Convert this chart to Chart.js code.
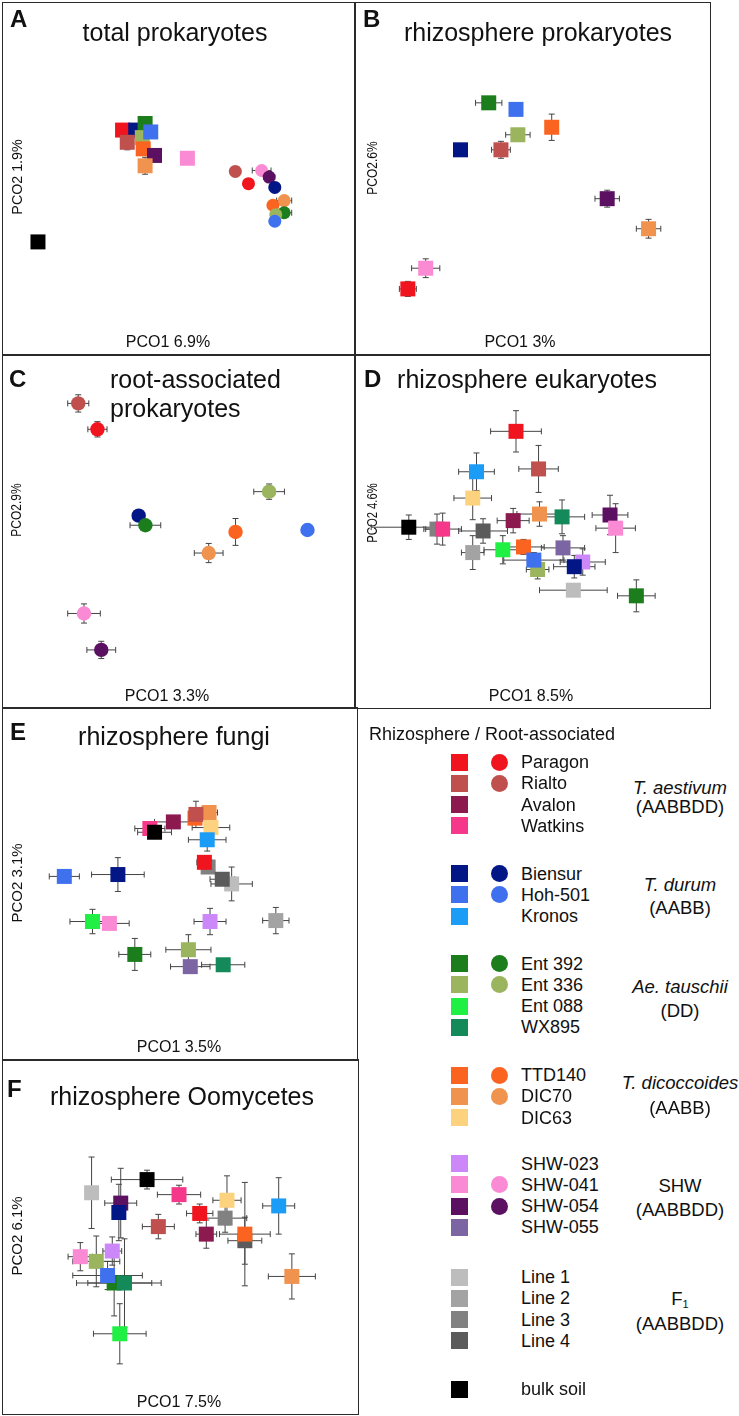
<!DOCTYPE html>
<html>
<head>
<meta charset="utf-8">
<script src="https://cdn.jsdelivr.net/npm/chart.js@4.4.0/dist/chart.umd.min.js"></script>
<style>
  body { margin: 0; width: 739px; height: 1416px; position: relative; overflow: hidden; background: #fff;
         font-family: "Liberation Sans", Arial, sans-serif; color: #111; }
  .box { position: absolute; border: 1.5px solid #2a2a2a; box-sizing: border-box; }
  .t { position: absolute; white-space: nowrap; line-height: 1; }
  canvas { position: absolute; }
  sub { font-size: 11px; vertical-align: -3px; }
</style>
</head>
<body>
<script>
// genotypes and their colours
const genotypes = ['Paragon', 'Rialto', 'Avalon', 'Watkins', 'Biensur', 'Hoh-501', 'Kronos',
  'Ent 392', 'Ent 336', 'Ent 088', 'WX895', 'TTD140', 'DIC70', 'DIC63',
  'SHW-023', 'SHW-041', 'SHW-054', 'SHW-055', 'Line 1', 'Line 2', 'Line 3', 'Line 4', 'bulk soil'];
const genotypeColors = ['#f0141e', '#c0504d', '#8c1a4e', '#f5388a', '#031686', '#3f70ee', '#1b9df7',
  '#1b7d1b', '#9bb45e', '#1ff043', '#14895a', '#fb6420', '#ef934f', '#fdd27e',
  '#cc88f8', '#fa8ad4', '#5c1062', '#7b66a3', '#bdbdbd', '#a3a3a3', '#818181', '#5b5b5b', '#000000'];
const rootAssociated = ['Paragon', 'Rialto', 'Biensur', 'Hoh-501', 'Ent 392', 'Ent 336', 'TTD140', 'DIC70', 'SHW-041', 'SHW-054'];

// [genotype, PCO1, PCO2, PCO1 error, PCO2 error]
const totalProkRhizo = [
  ['Paragon', 11.7, 22.7, 0, 0], ['Biensur', 13.1, 22.7, 0, 0], ['Ent 392', 14.1, 23.4, 0, 0.5],
  ['Ent 336', 13.8, 21.9, 0, 0], ['Hoh-501', 14.7, 22.5, 0, 0], ['Rialto', 12.2, 21.4, 0, 0.8],
  ['TTD140', 13.9, 20.7, 0, 0], ['SHW-054', 15.1, 20.0, 0, 0], ['DIC70', 14.1, 18.9, 0, 0.9],
  ['SHW-041', 18.6, 19.7, 0, 0], ['bulk soil', 2.7, 10.8, 0, 0]
];
const totalProkRoot = [
  ['Rialto', 23.7, 18.3, 0, 0], ['SHW-041', 26.5, 18.4, 1.0, 0], ['SHW-054', 27.3, 17.7, 0.6, 0],
  ['Paragon', 25.1, 17.0, 0, 0], ['Biensur', 27.9, 16.6, 0, 0], ['DIC70', 28.9, 15.2, 0.8, 0],
  ['TTD140', 27.7, 14.7, 0, 0], ['Ent 392', 28.9, 13.9, 0.8, 0], ['Ent 336', 28.0, 13.7, 0, 0],
  ['Hoh-501', 27.9, 13.0, 0, 0]
];
const rhizoProk = [
  ['Ent 392', 13.2, 25.6, 1.4, 0], ['Hoh-501', 16.1, 24.9, 0, 0.5], ['TTD140', 19.9, 23.0, 0, 1.4],
  ['Ent 336', 16.3, 22.2, 1.3, 0], ['Biensur', 10.2, 20.6, 0, 0], ['Rialto', 14.5, 20.6, 1.0, 0.9],
  ['SHW-054', 25.8, 15.4, 1.3, 0.9], ['DIC70', 30.2, 12.2, 1.3, 1.0], ['SHW-041', 6.5, 8.0, 1.5, 1.0],
  ['Paragon', 4.6, 5.8, 0.9, 0.8]
];
const rootProk = [
  ['Rialto', 7.2, 30.9, 1.1, 0.9], ['Paragon', 9.2, 28.2, 1.0, 0.8], ['Ent 336', 27.1, 21.7, 1.6, 0.8],
  ['Biensur', 13.5, 19.2, 0, 0], ['Ent 392', 14.2, 18.2, 1.6, 0], ['TTD140', 23.6, 17.5, 0, 1.4],
  ['Hoh-501', 31.1, 17.7, 0, 0.5], ['DIC70', 20.8, 15.3, 1.5, 1.0], ['SHW-041', 7.8, 9.0, 1.7, 1.0],
  ['SHW-054', 9.6, 5.2, 1.5, 0.9]
];
const rhizoEuk = [
  ['bulk soil', 4.7, 18.0, 4.0, 1.3], ['Line 3', 7.7, 17.8, 1.2, 1.6], ['Watkins', 8.3, 17.8, 2.0, 1.7],
  ['Line 4', 12.6, 17.6, 2.6, 1.3], ['Line 2', 11.5, 15.3, 1.2, 1.8], ['Ent 088', 14.7, 15.6, 2.0, 1.5],
  ['TTD140', 16.9, 15.9, 2.2, 0.8], ['Ent 336', 18.4, 13.5, 1.2, 1.0], ['Hoh-501', 18.0, 14.5, 3.2, 0.8],
  ['Kronos', 11.9, 23.9, 1.9, 2.0], ['DIC63', 11.5, 21.1, 2.0, 2.3], ['Paragon', 16.1, 28.2, 2.7, 2.2],
  ['Rialto', 18.5, 24.2, 2.1, 2.5], ['Avalon', 15.8, 18.7, 1.7, 1.3], ['DIC70', 18.6, 19.4, 2.4, 1.3],
  ['WX895', 21.0, 19.1, 2.4, 1.8], ['SHW-055', 21.1, 15.8, 2.3, 1.3], ['SHW-023', 23.2, 14.3, 2.4, 1.4],
  ['Biensur', 22.3, 13.8, 2.2, 1.2], ['SHW-054', 26.1, 19.3, 1.9, 2.1], ['SHW-041', 26.7, 17.9, 2.1, 2.6],
  ['Line 1', 22.2, 11.3, 3.6, 0.5], ['Ent 392', 28.9, 10.7, 2.0, 1.7]
];
const rhizoFungi = [
  ['DIC70', 20.9, 25.1, 0.9, 0.5], ['TTD140', 19.4, 24.5, 0, 0], ['Rialto', 19.5, 24.9, 0, 1.4],
  ['Avalon', 17.1, 24.1, 2.0, 0], ['DIC63', 21.1, 23.5, 2.0, 0], ['Kronos', 20.7, 22.2, 2.0, 1.2],
  ['Watkins', 14.6, 23.4, 1.6, 0], ['bulk soil', 15.1, 23.0, 1.8, 0], ['Line 3', 20.8, 19.3, 0, 0],
  ['Paragon', 20.4, 19.8, 0.8, 0], ['Line 1', 23.3, 17.5, 2.2, 1.8], ['Line 4', 22.3, 18.0, 1.3, 0],
  ['Hoh-501', 5.5, 18.3, 1.6, 0.3], ['Biensur', 11.2, 18.5, 2.8, 1.8], ['Ent 088', 8.5, 13.5, 2.4, 1.3],
  ['SHW-041', 10.3, 13.3, 2.1, 0], ['SHW-023', 21.0, 13.5, 1.7, 1.4], ['Line 2', 28.0, 13.6, 1.4, 1.4],
  ['Ent 392', 13.0, 10.0, 1.7, 1.7], ['Ent 336', 18.7, 10.5, 2.4, 1.6], ['SHW-055', 18.9, 8.7, 2.1, 0.5],
  ['WX895', 22.4, 8.9, 2.3, 0]
];
const rhizoOomy = [
  ['Line 1', 8.4, 22.3, 0, 3.8], ['bulk soil', 14.3, 23.7, 3.8, 1.0], ['Watkins', 17.7, 22.1, 2.3, 1.0],
  ['DIC63', 22.8, 21.5, 1.5, 2.6], ['Kronos', 28.3, 20.9, 1.7, 3.0], ['SHW-054', 11.5, 21.2, 1.7, 3.7],
  ['Biensur', 11.3, 20.2, 0, 3.0], ['Paragon', 19.9, 20.1, 1.4, 1.0], ['Line 3', 22.6, 19.6, 2.3, 1.5],
  ['Rialto', 15.5, 18.7, 1.7, 1.3], ['Avalon', 20.6, 17.9, 1.1, 1.5], ['Line 4', 24.7, 17.2, 1.8, 2.5],
  ['TTD140', 24.7, 17.9, 2.7, 5.5], ['SHW-023', 10.6, 16.1, 1.0, 1.5], ['SHW-041', 7.2, 15.5, 1.3, 1.5],
  ['Ent 336', 8.9, 15.0, 2.5, 2.7], ['Ent 392', 10.8, 12.7, 4.0, 3.5], ['Hoh-501', 10.1, 13.5, 3.7, 1.5],
  ['WX895', 11.9, 12.7, 3.9, 4.7], ['DIC70', 29.7, 13.4, 2.5, 2.4], ['Ent 088', 11.4, 7.3, 2.8, 3.2]
];

const colorOf = name => genotypeColors[genotypes.indexOf(name)];

function label(html, x, y, size, extra) {
  const d = document.createElement('div');
  d.className = 't';
  d.innerHTML = html;
  d.style.left = x + 'px';
  d.style.top = y + 'px';
  d.style.fontSize = size + 'px';
  d.style.transform = 'translate(-50%,-50%)';
  Object.assign(d.style, extra || {});
  document.body.appendChild(d);
  return d;
}

// error bars drawn under the markers
const errorBars = {
  id: 'errorBars',
  beforeDatasetsDraw(chart) {
    const { ctx, scales: { x, y } } = chart;
    ctx.save();
    ctx.strokeStyle = '#444';
    ctx.lineWidth = 1;
    const seg = (x1, y1, x2, y2) => { ctx.beginPath(); ctx.moveTo(x1, y1); ctx.lineTo(x2, y2); ctx.stroke(); };
    chart.data.datasets.forEach(ds => ds.data.forEach(p => {
      const cx = x.getPixelForValue(p.x), cy = y.getPixelForValue(p.y);
      if (p.xe) {
        const l = x.getPixelForValue(p.x - p.xe), r = x.getPixelForValue(p.x + p.xe);
        seg(l, cy, r, cy); seg(l, cy - 3, l, cy + 3); seg(r, cy - 3, r, cy + 3);
      }
      if (p.ye) {
        const t = y.getPixelForValue(p.y + p.ye), b = y.getPixelForValue(p.y - p.ye);
        seg(cx, t, cx, b); seg(cx - 3, t, cx + 3, t); seg(cx - 3, b, cx + 3, b);
      }
    }));
    ctx.restore();
  }
};

function toDataset(rows, style, radius) {
  return {
    data: rows.map(r => ({ x: r[1], y: r[2], xe: r[3], ye: r[4] })),
    pointStyle: style,
    pointRadius: radius,
    pointBorderWidth: 0,
    pointBackgroundColor: rows.map(r => colorOf(r[0])),
    clip: false
  };
}

const panels = [
  { id: 'A', left: 2, top: 2, w: 352, h: 352, squares: totalProkRhizo, circles: totalProkRoot, cr: 6.5 },
  { id: 'B', left: 354, top: 2, w: 355, h: 352, squares: rhizoProk },
  { id: 'C', left: 2, top: 354, w: 352, h: 353, circles: rootProk, cr: 7.2 },
  { id: 'D', left: 354, top: 354, w: 355, h: 353, squares: rhizoEuk },
  { id: 'E', left: 2, top: 707, w: 354, h: 352, squares: rhizoFungi },
  { id: 'F', left: 2, top: 1059, w: 355, h: 354, squares: rhizoOomy }
];

panels.forEach(p => {
  const box = document.createElement('div');
  box.className = 'box';
  Object.assign(box.style, { left: p.left + 'px', top: p.top + 'px', width: (p.w + 1.5) + 'px', height: (p.h + 1.5) + 'px' });
  document.body.appendChild(box);

  const c = document.createElement('canvas');
  c.width = p.w; c.height = p.h;
  c.style.left = p.left + 'px'; c.style.top = p.top + 'px';
  document.body.appendChild(c);

  const datasets = [];
  if (p.squares) datasets.push(toDataset(p.squares, 'rect', 10.6));
  if (p.circles) datasets.push(toDataset(p.circles, 'circle', p.cr));

  new Chart(c, {
    type: 'scatter',
    data: { datasets },
    options: {
      responsive: false,
      animation: false,
      events: [],
      layout: { padding: 0 },
      plugins: { legend: { display: false }, tooltip: { enabled: false } },
      scales: {
        x: { display: false, min: 0, max: p.w / 10 },
        y: { display: false, min: 0, max: p.h / 10 }
      }
    },
    plugins: [errorBars]
  });
});

// panel letters
const letterStyle = { fontWeight: 'bold', transform: 'translate(0,-50%)' };
[['A', 10, 18.6], ['B', 363, 18.6], ['C', 9, 378.6], ['D', 364, 378.6], ['E', 10, 731.6], ['F', 7, 1088.6]]
  .forEach(([s, x, y]) => label(s, x, y, 24, letterStyle));

// titles
label('total prokaryotes', 175, 32, 25);
label('rhizosphere prokaryotes', 538, 31.5, 25);
label('root-associated', 110, 379, 25, { transform: 'translate(0,-50%)' });
label('prokaryotes', 110, 408, 25, { transform: 'translate(0,-50%)' });
label('rhizosphere eukaryotes', 527, 379, 25);
label('rhizosphere fungi', 174, 736, 25);
label('rhizosphere Oomycetes', 182, 1096, 25);

// axis labels
[['PCO1 6.9%', 168, 342.4], ['PCO1 3%', 520, 342.4], ['PCO1 3.3%', 167, 696.4],
 ['PCO1 8.5%', 531, 696.4], ['PCO1 3.5%', 179, 1047.4], ['PCO1 7.5%', 179, 1402.4]]
  .forEach(([s, x, y]) => label(s, x, y, 16));
[['PCO2 1.9%', 16, 177, 0.95], ['PCO2.6%', 371, 168, 0.8], ['PCO2.9%', 15, 510, 0.8],
 ['PCO2 4.6%', 371, 513, 0.75], ['PCO2 3.1%', 16, 883, 1.0], ['PCO2 6.1%', 16, 1236, 1.0]]
  .forEach(([s, x, y, sx]) => label(s, x, y, 15, { transform: `translate(-50%,-50%) rotate(-90deg) scaleX(${sx})` }));

// legend
const speciesGroups = [
  ['<i>T. aestivum</i>', '(AABBDD)', ['Paragon', 'Rialto', 'Avalon', 'Watkins']],
  ['<i>T. durum</i>', '(AABB)', ['Biensur', 'Hoh-501', 'Kronos']],
  ['<i>Ae. tauschii</i>', '(DD)', ['Ent 392', 'Ent 336', 'Ent 088', 'WX895']],
  ['<i>T. dicoccoides</i>', '(AABB)', ['TTD140', 'DIC70', 'DIC63']],
  ['SHW', '(AABBDD)', ['SHW-023', 'SHW-041', 'SHW-054', 'SHW-055']],
  ['F<sub>1</sub>', '(AABBDD)', ['Line 1', 'Line 2', 'Line 3', 'Line 4']],
  ['', '', ['bulk soil']]
];
const groupTop = [762, 873.5, 963.5, 1075, 1163.5, 1277, 1389];
const groupLabelY = [[788, 807], [885, 908], [987, 1011], [1083, 1108], [1186, 1210], [1300, 1324], [0, 0]];
const rowStep = 21.3;

label('Rhizosphere / Root-associated', 369, 734, 18, { transform: 'translate(0,-50%)' });
speciesGroups.forEach(([sp, genome, members], gi) => {
  members.forEach((m, i) => {
    const y = groupTop[gi] + i * rowStep;
    const sq = document.createElement('div');
    Object.assign(sq.style, { position: 'absolute', left: '451px', top: (y - 8.5) + 'px', width: '17px', height: '17px', background: colorOf(m) });
    document.body.appendChild(sq);
    if (rootAssociated.includes(m)) {
      const ci = document.createElement('div');
      Object.assign(ci.style, { position: 'absolute', left: '490.5px', top: (y - 8.5) + 'px', width: '17px', height: '17px', borderRadius: '50%', background: colorOf(m) });
      document.body.appendChild(ci);
    }
    label(m, 521, y, 18, { transform: 'translate(0,-50%)' });
  });
  if (sp) {
    label(sp, 680, groupLabelY[gi][0], 18.5);
    label(genome, 680, groupLabelY[gi][1], 18.5);
  }
});
</script>
</body>
</html>
